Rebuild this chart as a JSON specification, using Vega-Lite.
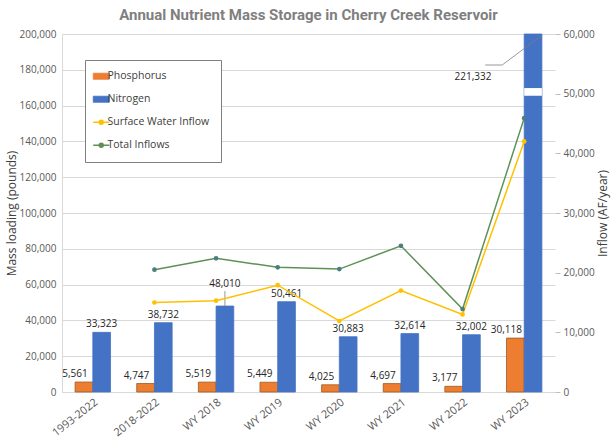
{
  "$schema": "https://vega.github.io/schema/vega-lite/v6.json",
  "width": 493,
  "height": 358,
  "autosize": {"type": "none"},
  "padding": {"left": 62, "top": 34, "right": 57, "bottom": 50},
  "background": "white",
  "title": {
    "text": "Annual Nutrient Mass Storage in Cherry Creek Reservoir",
    "font": "Roboto",
    "fontSize": 15,
    "fontWeight": "bold",
    "color": "#7f7f7f",
    "anchor": "middle",
    "offset": 6
  },
  "config": {
    "view": {"stroke": null},
    "font": "Open Sans",
    "axis": {
      "labelFont": "Open Sans",
      "titleFont": "Open Sans",
      "labelColor": "#595959",
      "titleColor": "#404040",
      "labelFontSize": 10,
      "titleFontSize": 12,
      "titleFontWeight": "normal",
      "domainColor": "#d9d9d9",
      "gridColor": "#d9d9d9",
      "labelOverlap": false
    },
    "legend": {
      "labelFont": "Open Sans",
      "labelFontSize": 10.5,
      "labelColor": "#404040"
    }
  },
  "datasets": {
    "bars": [
      {"category": "1993-2022", "series": "Phosphorus", "value": 5561},
      {"category": "1993-2022", "series": "Nitrogen", "value": 33323},
      {"category": "2018-2022", "series": "Phosphorus", "value": 4747},
      {"category": "2018-2022", "series": "Nitrogen", "value": 38732},
      {"category": "WY 2018", "series": "Phosphorus", "value": 5519},
      {"category": "WY 2018", "series": "Nitrogen", "value": 48010},
      {"category": "WY 2019", "series": "Phosphorus", "value": 5449},
      {"category": "WY 2019", "series": "Nitrogen", "value": 50461},
      {"category": "WY 2020", "series": "Phosphorus", "value": 4025},
      {"category": "WY 2020", "series": "Nitrogen", "value": 30883},
      {"category": "WY 2021", "series": "Phosphorus", "value": 4697},
      {"category": "WY 2021", "series": "Nitrogen", "value": 32614},
      {"category": "WY 2022", "series": "Phosphorus", "value": 3177},
      {"category": "WY 2022", "series": "Nitrogen", "value": 32002},
      {"category": "WY 2023", "series": "Phosphorus", "value": 30118},
      {"category": "WY 2023", "series": "Nitrogen", "value": 221332}
    ],
    "flows": [
      {"category": "2018-2022", "series": "Surface Water Inflow", "value": 15000},
      {"category": "WY 2018", "series": "Surface Water Inflow", "value": 15300},
      {"category": "WY 2019", "series": "Surface Water Inflow", "value": 17900},
      {"category": "WY 2020", "series": "Surface Water Inflow", "value": 11900},
      {"category": "WY 2021", "series": "Surface Water Inflow", "value": 17000},
      {"category": "WY 2022", "series": "Surface Water Inflow", "value": 13000},
      {"category": "WY 2023", "series": "Surface Water Inflow", "value": 42000},
      {"category": "2018-2022", "series": "Total Inflows", "value": 20500},
      {"category": "WY 2018", "series": "Total Inflows", "value": 22400},
      {"category": "WY 2019", "series": "Total Inflows", "value": 20900},
      {"category": "WY 2020", "series": "Total Inflows", "value": 20600},
      {"category": "WY 2021", "series": "Total Inflows", "value": 24500},
      {"category": "WY 2022", "series": "Total Inflows", "value": 13900},
      {"category": "WY 2023", "series": "Total Inflows", "value": 45900}
    ]
  },
  "layer": [
    {
      "data": {"name": "bars"},
      "encoding": {
        "x": {
          "field": "category",
          "type": "nominal",
          "scale": {
            "domain": ["1993-2022", "2018-2022", "WY 2018", "WY 2019", "WY 2020", "WY 2021", "WY 2022", "WY 2023"],
            "paddingInner": 0.425,
            "paddingOuter": 0.2125
          },
          "axis": {
            "title": null,
            "labelAngle": -38,
            "labelAlign": "right",
            "labelBaseline": "top",
            "labelPadding": 4,
            "ticks": false,
            "labelFontSize": 11
          }
        },
        "xOffset": {
          "field": "series",
          "type": "nominal",
          "scale": {"domain": ["Phosphorus", "Nitrogen"], "paddingInner": 0, "paddingOuter": 0}
        },
        "y": {
          "field": "value",
          "type": "quantitative",
          "scale": {"domain": [0, 200000], "nice": false, "clamp": true},
          "axis": {
            "title": "Mass loading (pounds)",
            "labelExpr": "format(datum.value, ',')",
            "values": [0, 20000, 40000, 60000, 80000, 100000, 120000, 140000, 160000, 180000, 200000],
            "grid": true,
            "ticks": false,
            "labelPadding": 6,
            "titlePadding": 1
          }
        }
      },
      "layer": [
        {
          "mark": {"type": "bar", "strokeWidth": 0.8},
          "encoding": {
            "color": {
              "field": "series",
              "type": "nominal",
              "scale": {
                "domain": ["Phosphorus", "Nitrogen", "Surface Water Inflow", "Total Inflows"],
                "range": ["#ED7D31", "#4472C4", "#FFC000", "#5E9155"]
              },
              "legend": {
                "orient": "none",
                "legendX": 23,
                "legendY": 26,
                "title": null,
                "padding": 11,
                "strokeColor": "#7f7f7f",
                "fillColor": "white",
                "rowPadding": 12,
                "labelOffset": 1,
                "symbolSize": 256,
                "symbolStrokeWidth": 1.5,
                "encode": {
                  "symbols": {
                    "update": {
                      "shape": {"signal": "indexof(['Phosphorus','Nitrogen'], datum.value) >= 0 ? 'M-1,-0.38H1V0.38H-1Z' : 'M-1,0H1M-0.25,0A0.25,0.25,0,1,1,0.25,0A0.25,0.25,0,1,1,-0.25,0'"},
                      "fill": {"signal": "datum.value === 'Total Inflows' ? '#4d7d7e' : scale('color', datum.value)"},
                      "stroke": {"signal": "datum.value === 'Phosphorus' ? '#9a5a25' : scale('color', datum.value)"},
                      "strokeWidth": {"signal": "indexof(['Phosphorus','Nitrogen'], datum.value) >= 0 ? 0.8 : 1.5"},
                      "opacity": {"value": 1}
                    }
                  }
                }
              }
            },
            "stroke": {
              "condition": {"test": "datum.series === 'Phosphorus'", "value": "#9a5a25"},
              "value": "#4472C4"
            }
          }
        },
        {
          "transform": [{"filter": "datum.category === 'WY 2023' && datum.series === 'Nitrogen'"}],
          "mark": {"type": "bar", "color": "white", "stroke": null},
          "encoding": {
            "y": {
              "datum": 165500,
              "type": "quantitative",
              "axis": {
                "title": "Mass loading (pounds)",
                "labelExpr": "format(datum.value, ',')",
                "values": [0, 20000, 40000, 60000, 80000, 100000, 120000, 140000, 160000, 180000, 200000],
                "grid": true,
                "ticks": false,
                "labelPadding": 6,
                "titlePadding": 1
              }
            },
            "y2": {"datum": 169800}
          }
        },
        {
          "transform": [{"filter": "datum.series === 'Phosphorus'"}],
          "mark": {"type": "text", "font": "Open Sans", "fontSize": 10, "color": "#262626", "baseline": "alphabetic", "dx": -9, "dy": -5},
          "encoding": {
            "text": {"field": "value", "type": "quantitative", "format": ","}
          }
        },
        {
          "transform": [{"filter": "datum.series === 'Nitrogen' && datum.category !== 'WY 2023' && datum.category !== 'WY 2018'"}],
          "mark": {"type": "text", "font": "Open Sans", "fontSize": 10, "color": "#262626", "baseline": "alphabetic", "dy": -5},
          "encoding": {
            "text": {"field": "value", "type": "quantitative", "format": ","}
          }
        },
        {
          "transform": [{"filter": "datum.series === 'Nitrogen' && datum.category === 'WY 2018'"}],
          "mark": {"type": "text", "font": "Open Sans", "fontSize": 10, "color": "#262626", "baseline": "alphabetic", "dy": -19},
          "encoding": {
            "text": {"field": "value", "type": "quantitative", "format": ","}
          }
        },
        {
          "transform": [{"filter": "datum.series === 'Nitrogen' && datum.category === 'WY 2018'"}],
          "mark": {"type": "rule", "color": "#7f7f7f", "strokeWidth": 0.8, "yOffset": -15, "y2Offset": 0},
          "encoding": {
            "y2": {"field": "value"}
          }
        },
        {
          "transform": [{"filter": "datum.series === 'Nitrogen' && datum.category === 'WY 2023'"}],
          "mark": {"type": "text", "font": "Open Sans", "fontSize": 10, "color": "#262626", "baseline": "alphabetic", "dx": -60, "dy": 46},
          "encoding": {
            "text": {"field": "value", "type": "quantitative", "format": ","}
          }
        },
        {
          "transform": [{"filter": "datum.series === 'Nitrogen' && datum.category === 'WY 2023'"}],
          "mark": {"type": "rule", "color": "#7f7f7f", "strokeWidth": 0.8, "xOffset": -39, "x2Offset": -22, "yOffset": 31, "y2Offset": 31},
          "encoding": {
            "xOffset": null,
            "x2": {"field": "category"},
            "y2": {"field": "value"}
          }
        },
        {
          "transform": [{"filter": "datum.series === 'Nitrogen' && datum.category === 'WY 2023'"}],
          "mark": {"type": "rule", "color": "#7f7f7f", "strokeWidth": 0.8, "xOffset": -22, "x2Offset": 18, "yOffset": 31, "y2Offset": 1},
          "encoding": {
            "xOffset": null,
            "x2": {"field": "category"},
            "y2": {"field": "value"}
          }
        }
      ]
    },
    {
      "data": {"name": "flows"},
      "encoding": {
        "x": {"field": "category", "type": "nominal"},
        "y": {
          "field": "value",
          "type": "quantitative",
          "scale": {"domain": [0, 60000], "nice": false},
          "axis": {
            "orient": "right",
            "title": "Inflow (AF/year)",
            "titleAngle": 270,
            "titleBaseline": "top",
            "labelExpr": "format(datum.value, ',')",
            "values": [0, 10000, 20000, 30000, 40000, 50000, 60000],
            "grid": false,
            "domain": false,
            "ticks": true,
            "tickSize": 5,
            "tickColor": "#bfbfbf",
            "labelPadding": 3,
            "titlePadding": 3
          }
        }
      },
      "layer": [
        {
          "mark": {"type": "line", "strokeWidth": 1.5},
          "encoding": {
            "color": {
              "field": "series",
              "type": "nominal",
              "legend": {
                "orient": "none",
                "legendX": 23,
                "legendY": 26,
                "title": null,
                "padding": 11,
                "strokeColor": "#7f7f7f",
                "fillColor": "white",
                "rowPadding": 12,
                "labelOffset": 1,
                "symbolSize": 256,
                "symbolStrokeWidth": 1.5,
                "encode": {
                  "symbols": {
                    "update": {
                      "shape": {"signal": "indexof(['Phosphorus','Nitrogen'], datum.value) >= 0 ? 'M-1,-0.38H1V0.38H-1Z' : 'M-1,0H1M-0.25,0A0.25,0.25,0,1,1,0.25,0A0.25,0.25,0,1,1,-0.25,0'"},
                      "fill": {"signal": "datum.value === 'Total Inflows' ? '#4d7d7e' : scale('color', datum.value)"},
                      "stroke": {"signal": "datum.value === 'Phosphorus' ? '#9a5a25' : scale('color', datum.value)"},
                      "strokeWidth": {"signal": "indexof(['Phosphorus','Nitrogen'], datum.value) >= 0 ? 0.8 : 1.5"},
                      "opacity": {"value": 1}
                    }
                  }
                }
              }
            }
          }
        },
        {
          "mark": {"type": "point", "filled": true, "size": 22, "opacity": 1},
          "encoding": {
            "fill": {
              "condition": {"test": "datum.series === 'Total Inflows'", "value": "#4d7d7e"},
              "value": "#FFC000"
            }
          }
        }
      ]
    }
  ],
  "resolve": {"scale": {"y": "independent"}}
}
